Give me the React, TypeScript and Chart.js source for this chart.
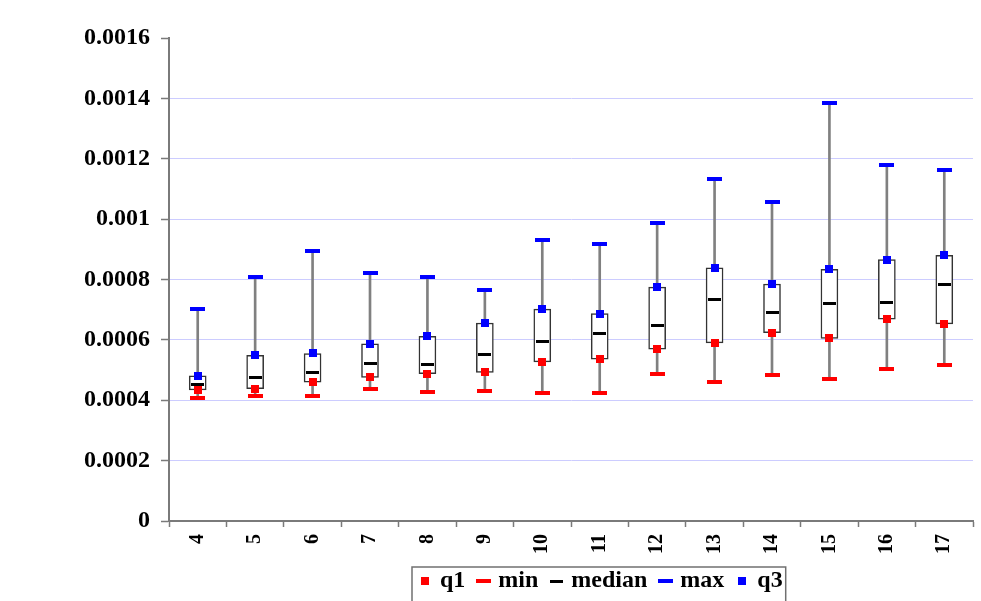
import React, { useEffect, useRef } from 'react';
import { Chart, registerables } from 'chart.js';

Chart.register(...registerables);

// ---- data ----
const categories = ['4', '5', '6', '7', '8', '9', '10', '11', '12', '13', '14', '15', '16', '17'];
const minValues = [0.000408, 0.000413, 0.000415, 0.000438, 0.000427, 0.000432, 0.000425, 0.000424, 0.000487, 0.000459, 0.000484, 0.000469, 0.000502, 0.000516];
const q1Values = [0.000434, 0.000438, 0.00046, 0.000476, 0.000488, 0.000492, 0.000527, 0.000536, 0.000569, 0.00059, 0.000624, 0.000605, 0.000669, 0.000653];
const medianValues = [0.000453, 0.000474, 0.000493, 0.000523, 0.000519, 0.000553, 0.000594, 0.000622, 0.000647, 0.000733, 0.000692, 0.00072, 0.000723, 0.000784];
const q3Values = [0.000481, 0.000549, 0.000555, 0.000587, 0.000612, 0.000656, 0.000702, 0.000687, 0.000775, 0.000839, 0.000785, 0.000834, 0.000866, 0.00088];
const maxValues = [0.000701, 0.000808, 0.000894, 0.000822, 0.000809, 0.000765, 0.000932, 0.000918, 0.000986, 0.001132, 0.001056, 0.001386, 0.00118, 0.001164];
const yMin = 0;
const yMax = 0.0016;
const yStep = 0.0002;

const FONT = "'Liberation Serif', 'Times New Roman', serif";

function makeMarker(w: number, h: number, color: string): HTMLCanvasElement {
  const c = document.createElement('canvas');
  c.width = w;
  c.height = h;
  const ctx = c.getContext('2d')!;
  ctx.fillStyle = color;
  ctx.fillRect(0, 0, w, h);
  return c;
}

const legendBorderPlugin = {
  id: 'legendBorder',
  afterLayout(chart: any) {
    const lg = chart.legend;
    if (!lg) return;
    const pad = lg.options.labels.padding;
    const w = lg.right - lg.left;
    lg.left = 422 - pad;
    lg.right = lg.left + w;
  },
  afterDraw(chart: any) {
    const lg = chart.legend;
    if (!lg || !lg.legendHitBoxes || !lg.legendHitBoxes.length) return;
    const hb = lg.legendHitBoxes;
    const first = hb[0];
    const last = hb[hb.length - 1];
    const ctx = chart.ctx;
    ctx.save();
    ctx.strokeStyle = '#707070';
    ctx.lineWidth = 1.5;
    const left = first.left - 10;
    const right = last.left + last.width + 3;
    const top = first.top - 2;
    ctx.strokeRect(left, top, right - left, chart.height - top + 20);
    ctx.restore();
  },
};

export default function App() {
  const ref = useRef<HTMLCanvasElement | null>(null);

  useEffect(() => {
    if (!ref.current) return;
    const redSquare = makeMarker(8, 8, '#ff0000');
    const blueSquare = makeMarker(8, 8, '#0000ff');
    const redDash = makeMarker(15, 4, '#ff0000');
    const blueDash = makeMarker(15, 4, '#0000ff');
    const blackDash = makeMarker(13, 3, '#000000');

    const boxData = q1Values.map((v, i) => [v, q3Values[i]]);
    const whiskerData = minValues.map((v, i) => [v, maxValues[i]]);

    const pointDs = (label: string, data: number[], style: HTMLCanvasElement) => ({
      type: 'line' as const,
      label,
      data,
      showLine: false,
      pointStyle: style,
      pointRadius: 5,
      pointHoverRadius: 5,
      borderColor: 'transparent',
      backgroundColor: 'transparent',
    });

    const chart = new Chart(ref.current, {
      type: 'bar',
      data: {
        labels: categories,
        datasets: [
          pointDs('q1', q1Values, redSquare),
          pointDs('min', minValues, redDash),
          pointDs('median', medianValues, blackDash),
          pointDs('max', maxValues, blueDash),
          pointDs('q3', q3Values, blueSquare),
          {
            type: 'bar',
            label: 'box',
            data: boxData as any,
            backgroundColor: '#ffffff',
            borderColor: '#333333',
            borderWidth: 1.5,
            borderSkipped: false,
            barThickness: 17,
            grouped: false,
          } as any,
          {
            type: 'bar',
            label: 'whisker',
            data: whiskerData as any,
            backgroundColor: '#808080',
            borderWidth: 0,
            barThickness: 2,
            grouped: false,
          } as any,
        ],
      },
      options: {
        responsive: false,
        animation: false,
        devicePixelRatio: 1,
        events: [],
        layout: { padding: { left: 0, right: 8, top: 38, bottom: 0 } },
        plugins: {
          tooltip: { enabled: false },
          legend: {
            position: 'bottom',
            align: 'start',
            labels: {
              usePointStyle: true,
              pointStyleWidth: 6,
              boxWidth: 6,
              boxHeight: 6,
              padding: 15,
              color: '#000',
              font: { family: FONT, size: 24, weight: 'bold' },
              filter: (item: any) => item.datasetIndex < 5,
            },
          },
        },
        scales: {
          x: {
            type: 'category',
            offset: true,
            afterFit: (s: any) => { s.height = 33; },
            grid: {
              offset: true,
              drawOnChartArea: false,
              drawTicks: true,
              tickLength: 6,
              tickColor: '#7a7a7a',
              tickWidth: 1.5,
            },
            border: { display: true, color: '#7a7a7a', width: 2 },
            ticks: {
              autoSkip: false,
              minRotation: 90,
              maxRotation: 90,
              padding: 7,
              color: '#000',
              font: { family: FONT, size: 20, weight: 'bold' },
            },
          },
          y: {
            type: 'linear',
            min: yMin,
            max: yMax,
            afterFit: (s: any) => { s.width = 169; },
            grid: {
              color: (c: any) => {
                const v = c.tick ? c.tick.value : 0;
                return v <= 1e-12 || v >= yMax - 1e-9 ? 'rgba(0,0,0,0)' : '#ccccff';
              },
              lineWidth: 1,
              drawTicks: true,
              tickLength: 8,
              tickColor: '#7a7a7a',
              tickWidth: 1.5,
            },
            border: { display: true, color: '#7a7a7a', width: 2 },
            ticks: {
              stepSize: yStep,
              padding: 11,
              color: '#000',
              font: { family: FONT, size: 24, weight: 'bold' },
              callback: (v: any) => String(Number(Number(v).toFixed(4))),
            },
          },
        },
      } as any,
      plugins: [legendBorderPlugin],
    });
    return () => chart.destroy();
  }, []);

  return (
    <div style={{ position: 'fixed', left: 0, top: 0, width: 981, height: 601, overflow: 'hidden', background: '#fff' }}>
      <canvas ref={ref} width={981} height={603} style={{ display: 'block' }} />
    </div>
  );
}
